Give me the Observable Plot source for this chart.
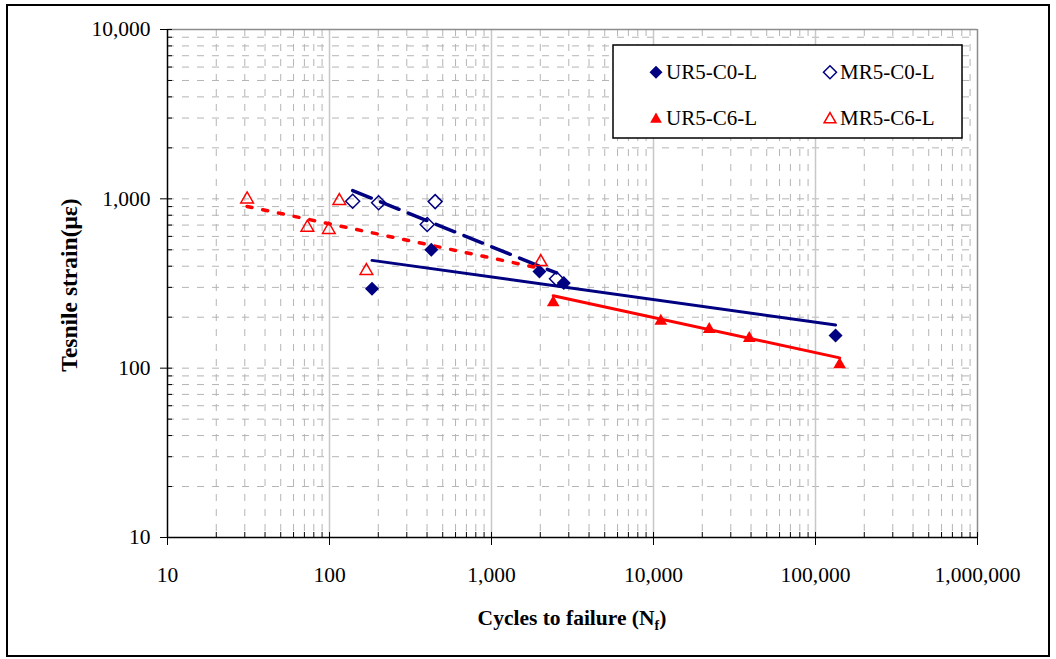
<!DOCTYPE html>
<html><head><meta charset="utf-8">
<script src="https://cdn.jsdelivr.net/npm/d3@7"></script>
<script src="https://cdn.jsdelivr.net/npm/@observablehq/plot@0.6"></script>
<style>body{margin:0;background:#fff;} #chart{position:relative;width:1056px;height:659px;}</style>
</head><body><div id="chart"></div>
<script>
const FONT = '"Liberation Serif","Times New Roman",Times,serif';
const NAVY = "#000080", RED = "#ff0000";

// tick values
const xMajor = [10, 100, 1000, 10000, 100000, 1000000];
const yMajor = [10, 100, 1000, 10000];
const minorMult = [2, 3, 4, 5, 6, 7, 8, 9];

// series names
const seriesNames = ["UR5-C0-L", "MR5-C0-L", "UR5-C6-L", "MR5-C6-L"];

// UR5-C0-L (filled diamond)
const urC0Cycles = [183, 425, 1977, 2794, 133000];
const urC0Strain = [294, 500, 372, 318, 156];
// MR5-C0-L (open diamond)
const mrC0Cycles = [139, 201, 449, 401, 2519];
const mrC0Strain = [968, 948, 963, 705, 337];
// UR5-C6-L (filled triangle)
const urC6Cycles = [2404, 11090, 22080, 39000, 141000];
const urC6Strain = [251, 195, 174, 154, 108];
// MR5-C6-L (open triangle)
const mrC6Cycles = [31, 73, 99, 115, 169, 2014];
const mrC6Strain = [1022, 696, 675, 1000, 386, 436];

// trend lines (power fits, endpoints)
const urC0TrendCycles = [183, 133000];
const urC0TrendStrain = [433, 180];
const urC6TrendCycles = [2404, 141000];
const urC6TrendStrain = [268, 115];
const mrC0TrendCycles = [139, 2519];
const mrC0TrendStrain = [1119, 365];
const mrC6TrendCycles = [31, 2014];
const mrC6TrendStrain = [902, 388];

const rows = (xs, ys) => xs.map((x, i) => ({x, y: ys[i]}));
const xMinor = xMajor.slice(0, -1).flatMap(d => minorMult.map(m => d * m));
const yMinor = yMajor.slice(0, -1).flatMap(d => minorMult.map(m => d * m));

const W = 1056, H = 659, mL = 167, mR = 79, mT = 29, mB = 122;
const pw = W - mL - mR, ph = H - mT - mB;

const plot = Plot.plot({
  width: W, height: H,
  marginLeft: mL, marginRight: mR, marginTop: mT, marginBottom: mB,
  style: {fontFamily: FONT, fontSize: "21.5px", color: "#000", background: "#fff", overflow: "visible"},
  x: {type: "log", domain: [10, 1e6], label: null},
  y: {type: "log", domain: [10, 10000], label: null},
  marks: [
    // grid
    Plot.ruleX(xMinor, {stroke: "#b4b4b4", strokeWidth: 1, strokeDasharray: "7,8"}),
    Plot.ruleY([...yMinor, 100, 1000], {stroke: "#b4b4b4", strokeWidth: 1, strokeDasharray: "7,8"}),
    Plot.ruleX(xMajor.slice(1, -1), {stroke: "#c8c8c8", strokeWidth: 1.5}),
    Plot.ruleY([10000], {stroke: "#8c8c8c", strokeWidth: 1.5}),
    Plot.ruleX([1e6], {stroke: "#8c8c8c", strokeWidth: 1.5}),
    // inward ticks
    Plot.ruleX([...xMajor, ...xMinor], {insetTop: ph - 5, stroke: "#000", strokeWidth: 1}),
    Plot.ruleY([...yMajor, ...yMinor], {insetRight: pw - 5, stroke: "#000", strokeWidth: 1}),
    // axis lines
    Plot.ruleX([10], {stroke: "#000", strokeWidth: 1.5}),
    Plot.ruleY([10], {stroke: "#000", strokeWidth: 1.5}),
    // axes
    Plot.axisX({ticks: xMajor, tickSize: 8, tickPadding: 21, tickFormat: d3.format(","), label: null, fontSize: 21.5, strokeWidth: 1}),
    Plot.axisY({ticks: yMajor, tickSize: 7, tickPadding: 10, tickFormat: d3.format(","), label: null, fontSize: 21.5, strokeWidth: 1}),
    // trend lines
    Plot.line(rows(urC0TrendCycles, urC0TrendStrain), {x: "x", y: "y", stroke: NAVY, strokeWidth: 3}),
    Plot.line(rows(urC6TrendCycles, urC6TrendStrain), {x: "x", y: "y", stroke: RED, strokeWidth: 3}),
    Plot.line(rows(mrC0TrendCycles, mrC0TrendStrain), {x: "x", y: "y", stroke: NAVY, strokeWidth: 3.5, strokeDasharray: "20,10"}),
    Plot.line(rows(mrC6TrendCycles, mrC6TrendStrain), {x: "x", y: "y", stroke: RED, strokeWidth: 3.5, strokeDasharray: "5,11"}),
    // markers
    Plot.dot(rows(urC0Cycles, urC0Strain), {x: "x", y: "y", symbol: "diamond2", r: 6.3, fill: NAVY, stroke: "none"}),
    Plot.dot(rows(mrC0Cycles, mrC0Strain), {x: "x", y: "y", symbol: "diamond2", r: 6.3, fill: "none", stroke: NAVY, strokeWidth: 1.5}),
    Plot.dot(rows(urC6Cycles, urC6Strain), {x: "x", y: "y", symbol: "triangle", r: 4.7, dy: 2, fill: RED, stroke: "none"}),
    Plot.dot(rows(mrC6Cycles, mrC6Strain), {x: "x", y: "y", symbol: "triangle", r: 4.7, dy: 2, fill: "none", stroke: RED, strokeWidth: 1.5})
  ]
});

document.getElementById("chart").appendChild(plot);

const svg = d3.select(plot);
// outer border
svg.append("rect").attr("x", 7).attr("y", 5).attr("width", 1042).attr("height", 651)
  .attr("fill", "none").attr("stroke", "#000").attr("stroke-width", 2);

// x axis label with subscript
const xl = svg.append("text").attr("x", (mL + W - mR) / 2).attr("y", 625)
  .attr("text-anchor", "middle").attr("font-family", FONT).attr("font-size", 21.5).attr("font-weight", "bold").attr("fill", "#000");
xl.append("tspan").text("Cycles to failure (N");
xl.append("tspan").attr("font-size", 14).attr("dy", 5).text("f");
xl.append("tspan").attr("dy", -5).text(")");

// y axis label
svg.append("text").attr("transform", "translate(77,285) rotate(-90)")
  .attr("text-anchor", "middle").attr("font-family", FONT).attr("font-size", 23.5).attr("font-weight", "bold").attr("fill", "#000")
  .text("Tesnile strain(\u03bc\u03b5)");

// legend
const lg = svg.append("g").attr("text-anchor", "start");
lg.append("rect").attr("x", 613).attr("y", 45).attr("width", 349).attr("height", 93)
  .attr("fill", "#fff").attr("stroke", "#000").attr("stroke-width", 1.5);
const legendItems = [
  {name: seriesNames[0], sym: d3.symbolDiamond2, size: 108, fill: NAVY, stroke: "none", cx: 656, cy: 72.3, tx: 666, ty: 79},
  {name: seriesNames[1], sym: d3.symbolDiamond2, size: 108, fill: "none", stroke: NAVY, cx: 830, cy: 72.3, tx: 840, ty: 79},
  {name: seriesNames[2], sym: d3.symbolTriangle, size: 60, fill: RED, stroke: "none", cx: 656, cy: 119.4, tx: 666, ty: 125},
  {name: seriesNames[3], sym: d3.symbolTriangle, size: 60, fill: "none", stroke: RED, cx: 830, cy: 119.4, tx: 840, ty: 125}
];
for (const it of legendItems) {
  lg.append("path").attr("d", d3.symbol(it.sym, it.size)()).attr("transform", `translate(${it.cx},${it.cy})`)
    .attr("fill", it.fill).attr("stroke", it.stroke).attr("stroke-width", 1.5);
  lg.append("text").attr("x", it.tx).attr("y", it.ty).attr("text-anchor", "start")
    .attr("font-family", FONT).attr("font-size", 21).attr("fill", "#000").text(it.name);
}
</script>
</body></html>
